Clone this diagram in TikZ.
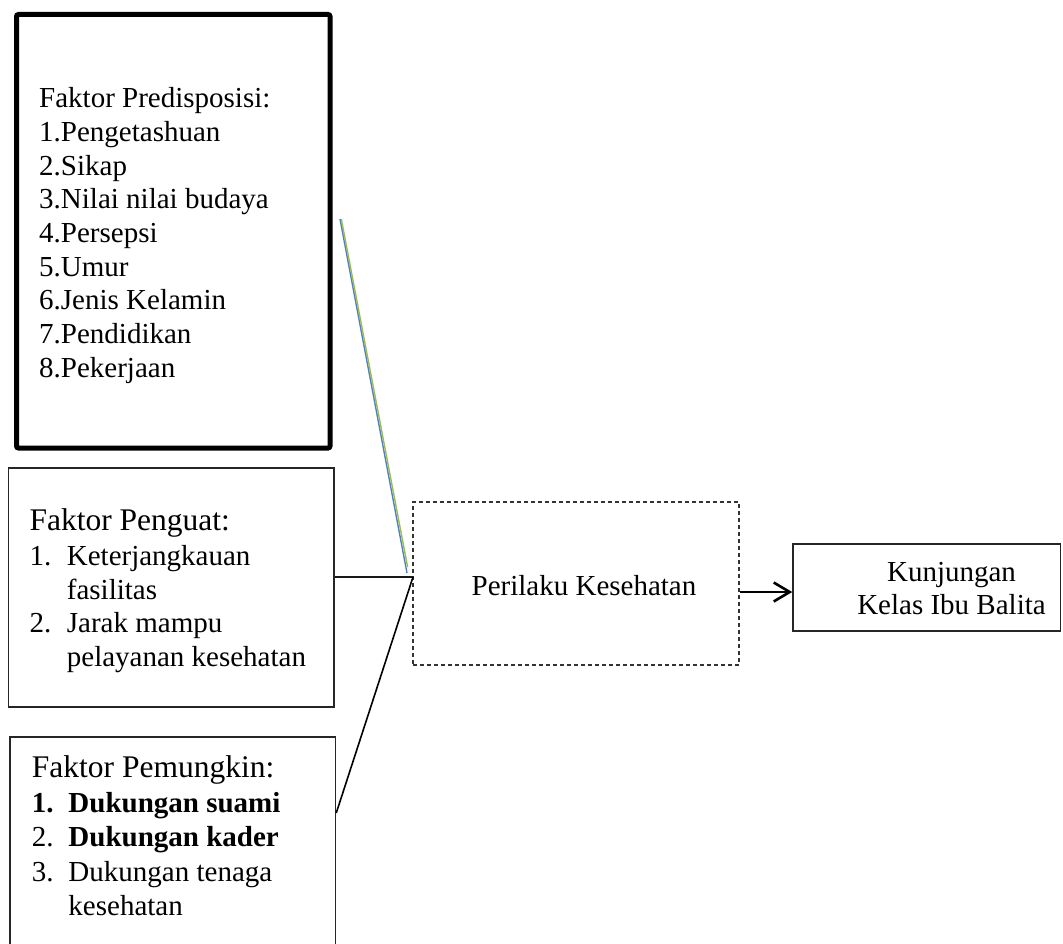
\documentclass[tikz,border=0pt]{standalone}
\usepackage{fontspec}
\setmainfont{Liberation Serif}
\usetikzlibrary{arrows.meta,calc}
\begin{document}
\begin{tikzpicture}[x=1pt,y=-1pt,
  box/.style={draw=black!85, line width=1.5pt, rectangle, inner sep=0pt},
  thickbox/.style={draw=black, line width=5pt, rectangle, inner sep=0pt, rounded corners=2pt},
  dashbox/.style={draw=black!80, line width=1.2pt, dash pattern=on 4pt off 3pt, rectangle, inner sep=0pt},
  txt/.style={inner sep=0pt, align=left, font=\fontsize{29}{33.7}\selectfont},
  head/.style={inner sep=0pt, anchor=base west, font=\fontsize{31.5}{35}\selectfont},
  conn/.style={draw=black!90, line width=1.6pt},
  arr/.style={draw=black, line width=2.6pt, -{Straight Barb[length=16pt,width=19pt,line width=2.6pt]}}]
\useasboundingbox (0,0) rectangle (1063,944);
\clip (0,0) rectangle (1063,944);
% boxes
\node[thickbox, minimum width=313.5pt, minimum height=433.5pt] (pre) at (173.25,231.25) {};
\node[box, minimum width=325.5pt, minimum height=239pt] (pg) at (171.25,587.5) {};
\node[box, minimum width=325.5pt, minimum height=243pt] (pm) at (172.75,858.5) {};
\node[dashbox, minimum width=326pt, minimum height=163pt] (per) at (576,583.5) {};
\node[box, minimum width=267.5pt, minimum height=87pt] (kb) at (926.75,587.5) {};
% texts
\node[txt, anchor=north west] (pretxt) at (39,87.3) {Faktor Predisposisi:\\1.Pengetashuan\\2.Sikap\\3.Nilai nilai budaya\\4.Persepsi\\5.Umur\\6.Jenis Kelamin\\7.Pendidikan\\8.Pekerjaan};
\node[head] (pghead) at (29.3,530) {Faktor Penguat:};
\node[txt, anchor=north west, font=\fontsize{29}{33.6}\selectfont] (pgtxt) at (29.3,545.3)
  {\makebox[37.4pt][l]{1.}Keterjangkauan\\\hspace*{37.4pt}fasilitas\\\makebox[37.4pt][l]{2.}Jarak mampu\\\hspace*{37.4pt}pelayanan kesehatan};
\node[head] (pmhead) at (31.7,777) {Faktor Pemungkin:};
\node[txt, anchor=north west, font=\fontsize{29}{34.3}\selectfont] (pmtxt) at (31.7,792.3)
  {\makebox[36.6pt][l]{\bfseries 1.}\textbf{Dukungan suami}\\\makebox[36.6pt][l]{2.}\textbf{Dukungan kader}\\\makebox[36.6pt][l]{3.}Dukungan tenaga\\\hspace*{36.6pt}kesehatan};
\node[inner sep=0pt, anchor=base, font=\fontsize{29}{33}\selectfont] (pertxt) at (584,595) {Perilaku Kesehatan};
\node[inner sep=0pt, anchor=north, align=center, font=\fontsize{29}{33}\selectfont] (kbtxt) at (951.5,562.3) {Kunjungan\\Kelas Ibu Balita};
% connectors
\coordinate (J) at (413,577);
\coordinate (ky) at (0,813);
\coordinate (ay) at (0,592);
\coordinate (ctop) at (340,219);
\coordinate (cbot) at (407,573);
\draw[conn] (pg.east |- J) -- (J);
\draw[conn, draw=black] (J) -- (pm.east |- ky);
\draw[line width=1.4pt, draw={rgb,255:red,79;green,129;blue,189}] (ctop) -- (cbot);
\draw[line width=1.4pt, draw={rgb,255:red,155;green,187;blue,89}] ($(ctop)+(1.3,0)$) -- ($(cbot)+(0.6,-6)$);
\draw[arr] (per.east |- ay) -- (kb.west |- ay);
\end{tikzpicture}
\end{document}
